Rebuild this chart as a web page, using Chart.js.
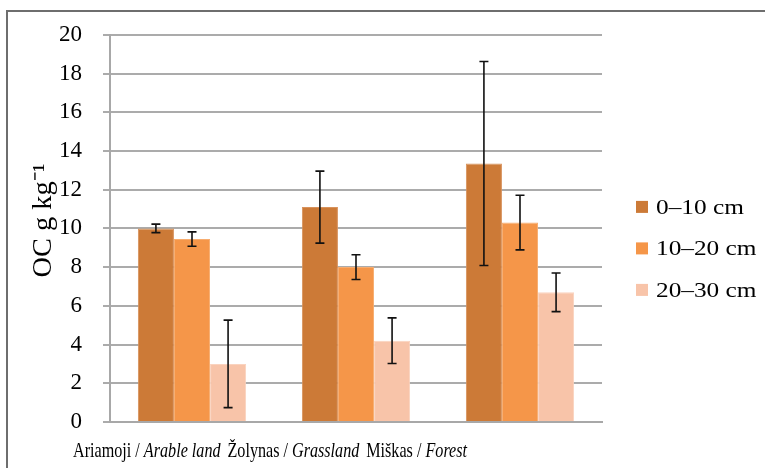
<!DOCTYPE html>
<html>
<head>
<meta charset="utf-8">
<style>
  html, body { margin: 0; padding: 0; background: #fff; }
  #wrap { width: 765px; height: 468px; position: relative; }
</style>
<script src="https://cdn.jsdelivr.net/npm/chart.js@4"></script>
</head>
<body>
<div id="wrap"><canvas id="c" width="765" height="468"></canvas></div>
<script>
// Land-use categories: local name + English name (italic)
const landLocal = ['Ariamoji', 'Žolynas', 'Miškas'];
const landEnglish = ['Arable land', 'Grassland', 'Forest'];

// Depth layers
const depthLabels = ['0–10 cm', '10–20 cm', '20–30 cm'];

// Mean organic carbon (g/kg) per depth layer, one value per land use
const oc0_10  = [10.0, 11.1, 13.35];
const oc10_20 = [9.45, 8.0, 10.3];
const oc20_30 = [3.0, 4.2, 6.7];

// Error (±) for each mean
const err0_10  = [0.22, 1.86, 5.27];
const err10_20 = [0.37, 0.64, 1.41];
const err20_30 = [2.26, 1.18, 1.0];

// Y axis ticks and title
const yMin = 0, yMax = 20, yStep = 2;
const yTitle = 'OC g kg⁻¹';

const colors = ['#cc7a37', '#f59649', '#f8c4a9'];
const edgeColors = ['#d8925c', '#f7ad70', '#fad3bf'];

const serif = '"Liberation Serif", "Times New Roman", serif';

const seriesValues = [oc0_10, oc10_20, oc20_30];
const seriesErrors = [err0_10, err10_20, err20_30];

const datasets = depthLabels.map((lbl, i) => ({
  label: lbl,
  data: seriesValues[i],
  errors: seriesErrors[i],
  backgroundColor: colors[i],
  borderColor: edgeColors[i],
  borderWidth: 1,
  categoryPercentage: 0.66,
  barPercentage: 1.0
}));

// Outer frame (top and left edges)
const framePlugin = {
  id: 'frame',
  beforeDraw(chart) {
    const ctx = chart.ctx;
    ctx.save();
    ctx.fillStyle = '#fff';
    ctx.fillRect(0, 0, chart.width, chart.height);
    ctx.strokeStyle = '#6e6e6e';
    ctx.lineWidth = 2;
    ctx.beginPath();
    ctx.moveTo(7, chart.height);
    ctx.lineTo(7, 11);
    ctx.lineTo(chart.width, 11);
    ctx.stroke();
    ctx.restore();
  }
};

// Error bars with caps
const errorBarPlugin = {
  id: 'errorBars',
  afterDatasetsDraw(chart) {
    const ctx = chart.ctx;
    const y = chart.scales.y;
    ctx.save();
    ctx.strokeStyle = '#111';
    ctx.lineWidth = 1.6;
    chart.data.datasets.forEach((ds, di) => {
      const meta = chart.getDatasetMeta(di);
      meta.data.forEach((bar, i) => {
        const v = ds.data[i], e = ds.errors[i];
        const yt = y.getPixelForValue(v + e);
        const yb = y.getPixelForValue(v - e);
        const x = bar.x;
        const cap = 4.5;
        ctx.beginPath();
        ctx.moveTo(x, yt); ctx.lineTo(x, yb);
        ctx.moveTo(x - cap, yt); ctx.lineTo(x + cap, yt);
        ctx.moveTo(x - cap, yb); ctx.lineTo(x + cap, yb);
        ctx.stroke();
      });
    });
    ctx.restore();
  }
};

// Rotated y-axis title
const yTitlePlugin = {
  id: 'yTitle',
  afterDraw(chart) {
    const ctx = chart.ctx;
    const area = chart.chartArea;
    ctx.save();
    ctx.translate(area.left - 66, (area.top + area.bottom) / 2 - 8);
    ctx.rotate(-Math.PI / 2);
    ctx.font = '27px ' + serif;
    ctx.fillStyle = '#000';
    ctx.textAlign = 'center';
    ctx.textBaseline = 'middle';
    const w = ctx.measureText(yTitle).width;
    ctx.scale(114 / w, 1);
    ctx.fillText(yTitle, 0, 0);
    ctx.restore();
  }
};

// Legend on the right with square swatches
const legendPlugin = {
  id: 'sideLegend',
  afterDraw(chart) {
    const ctx = chart.ctx;
    const area = chart.chartArea;
    ctx.save();
    ctx.textBaseline = 'middle';
    const x0 = area.right + 34;
    const yc = (area.top + area.bottom) / 2 + 20;
    const gap = 41.5;
    chart.data.datasets.forEach((ds, i) => {
      const yy = yc + (i - 1) * gap;
      ctx.fillStyle = ds.backgroundColor;
      ctx.fillRect(x0, yy - 6, 12, 12);
      ctx.save();
      ctx.translate(x0 + 20, yy + 1);
      ctx.scale(1.15, 1);
      ctx.font = '22px ' + serif;
      ctx.fillStyle = '#000';
      ctx.fillText(ds.label, 0, 0);
      ctx.restore();
    });
    ctx.restore();
  }
};

// Category labels: local name upright, English name italic, on one line
const xLabelPlugin = {
  id: 'mixedLabels',
  afterDraw(chart) {
    const ctx = chart.ctx;
    const area = chart.chartArea;
    ctx.save();
    ctx.textBaseline = 'alphabetic';
    ctx.fillStyle = '#000';
    const normal = '21px ' + serif;
    const italic = 'italic 21px ' + serif;
    const sep = ' / ';
    const groupGap = 9;
    const pieces = [];
    landLocal.forEach((loc, i) => {
      pieces.push({ t: loc + sep, f: normal });
      pieces.push({ t: landEnglish[i], f: italic, end: true });
    });
    let total = 0;
    pieces.forEach(p => {
      ctx.font = p.f;
      p.w = ctx.measureText(p.t).width;
      total += p.w + (p.end ? groupGap : 0);
    });
    total -= groupGap;
    const sx = 394 / total;
    ctx.translate(area.left - 37, area.bottom + 35);
    ctx.scale(sx, 1);
    let x = 0;
    pieces.forEach(p => {
      ctx.font = p.f;
      ctx.fillText(p.t, x, 0);
      x += p.w + (p.end ? groupGap : 0);
    });
    ctx.restore();
  }
};

new Chart(document.getElementById('c'), {
  type: 'bar',
  data: {
    labels: landEnglish,
    datasets: datasets
  },
  options: {
    responsive: false,
    animation: false,
    layout: { padding: { left: 0, right: 163, top: 34, bottom: 0 } },
    plugins: {
      legend: { display: false },
      tooltip: { enabled: false }
    },
    scales: {
      x: {
        grid: { display: false, drawTicks: false },
        border: { color: '#a8a8a8', width: 2 },
        ticks: { display: false },
        afterFit(scale) { scale.height = 46; }
      },
      y: {
        min: yMin,
        max: yMax,
        ticks: {
          stepSize: yStep,
          color: '#000',
          padding: 21,
          font: { family: serif, size: 23 }
        },
        grid: {
          color: '#ababab',
          lineWidth: 2,
          tickLength: 7,
          drawTicks: true
        },
        border: { color: '#a8a8a8', width: 2 },
        title: { display: false },
        afterFit(scale) { scale.width = 110; }
      }
    }
  },
  plugins: [framePlugin, errorBarPlugin, yTitlePlugin, legendPlugin, xLabelPlugin]
});
</script>
</body>
</html>
